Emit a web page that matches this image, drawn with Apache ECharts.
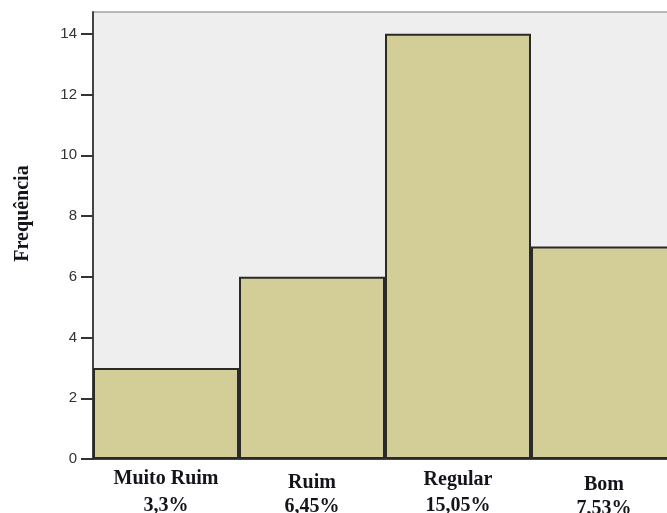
<!DOCTYPE html>
<html>
<head>
<meta charset="utf-8">
<script src="https://cdn.jsdelivr.net/npm/echarts@6/dist/echarts.min.js"></script>
<style>
  html, body { margin: 0; padding: 0; background: #ffffff; overflow: hidden; }
  #chart { width: 680px; height: 513px; }
</style>
</head>
<body>
<div id="chart"></div>
<script>
// Avaliação: frequência por categoria
const categories = ['Muito Ruim', 'Ruim', 'Regular', 'Bom'];
const percentLabels = ['3,3%', '6,45%', '15,05%', '7,53%'];
const frequencies = [3, 6, 14, 7];
const yTicks = [0, 2, 4, 6, 8, 10, 12, 14];

// line heights of the two label rows under each bar (slightly staggered rows)
const rowHeights = [[22, 32], [30, 18], [24, 28], [34, 13]];

const chart = echarts.init(document.getElementById('chart'), null, { renderer: 'canvas' });

const labelFont = {
  fontFamily: 'Liberation Serif', fontWeight: 'bold', fontSize: 20, color: '#14141c'
};
const rich = {};
rowHeights.forEach((h, i) => {
  rich['a' + i] = Object.assign({ lineHeight: h[0] }, labelFont);
  rich['b' + i] = Object.assign({ lineHeight: h[1] }, labelFont);
});

chart.setOption({
  animation: false,
  grid: {
    left: 93, top: 12, right: 3, bottom: 54,
    outerBoundsMode: 'none',
    containLabel: false,
    show: true, backgroundColor: '#eeeeee', borderColor: '#7a7a7a', borderWidth: 1
  },
  xAxis: {
    type: 'category',
    data: categories,
    axisLine: { show: true, lineStyle: { color: '#222', width: 1.5 } },
    axisTick: { show: false },
    axisLabel: {
      margin: 9,
      interval: 0,
      formatter: (v, i) => `{a${i}|${v}}\n{b${i}|${percentLabels[i]}}`,
      rich
    }
  },
  yAxis: {
    type: 'value',
    min: 0, max: 14.72,
    interval: 2,
    name: 'Frequência',
    nameLocation: 'middle',
    nameRotate: 90,
    nameGap: 60,
    nameTextStyle: {
      fontFamily: 'Liberation Serif', fontWeight: 'bold', fontSize: 20, color: '#14141c',
      padding: [0, 0, 0, 44]
    },
    splitLine: { show: false },
    axisLine: { show: true, lineStyle: { color: '#444', width: 2 } },
    axisTick: { show: true, length: 12, customValues: yTicks, lineStyle: { color: '#333', width: 2 } },
    axisLabel: {
      customValues: yTicks,
      margin: 16,
      fontFamily: 'Liberation Sans', fontSize: 15, color: '#333'
    }
  },
  series: [{
    type: 'bar',
    data: frequencies,
    barCategoryGap: 0,
    itemStyle: { color: '#d3ce98', borderColor: '#2a2a2a', borderWidth: 2 }
  }]
});
</script>
</body>
</html>
